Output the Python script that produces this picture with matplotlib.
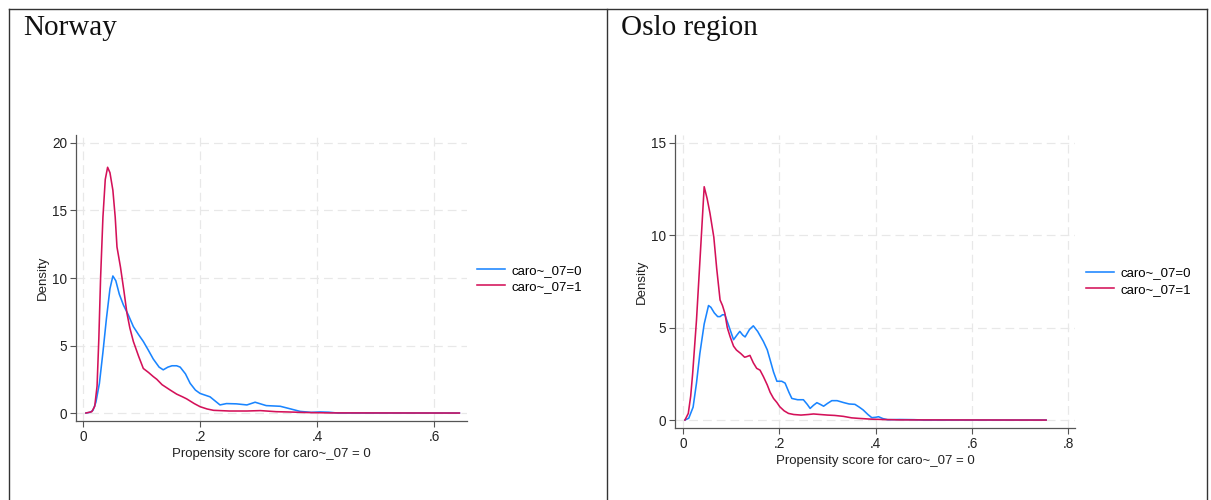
import matplotlib
matplotlib.use("Agg")
import matplotlib.pyplot as plt
from matplotlib.lines import Line2D

# ---------------- data ----------------
panel_titles = ["Norway", "Oslo region"]
series_labels = ["caro~_07=0", "caro~_07=1"]
x_label = "Propensity score for caro~_07 = 0"
y_label = "Density"

nor_ticks_x = [0, 0.2, 0.4, 0.6]
nor_ticklabels_x = ["0", ".2", ".4", ".6"]
nor_ticks_y = [0, 5, 10, 15, 20]
oslo_ticks_x = [0, 0.2, 0.4, 0.6, 0.8]
oslo_ticklabels_x = ["0", ".2", ".4", ".6", ".8"]
oslo_ticks_y = [0, 5, 10, 15]

nor0_x = [0.005, 0.012, 0.017, 0.022, 0.028, 0.034, 0.040, 0.046, 0.051, 0.056, 0.062, 0.069,
          0.077, 0.086, 0.095, 0.103, 0.111, 0.120, 0.130, 0.137, 0.145, 0.152, 0.160, 0.166,
          0.175, 0.183, 0.192, 0.200, 0.217, 0.234, 0.245, 0.262, 0.280, 0.294, 0.313, 0.337,
          0.355, 0.371, 0.390, 0.405, 0.420, 0.435, 0.643]
nor0_y = [0.0, 0.05, 0.2, 0.8, 2.2, 4.5, 7.0, 9.2, 10.15, 9.8, 8.8, 8.0,
          7.3, 6.4, 5.8, 5.3, 4.7, 4.0, 3.4, 3.2, 3.4, 3.5, 3.5, 3.4,
          2.9, 2.2, 1.7, 1.45, 1.2, 0.6, 0.7, 0.68, 0.6, 0.8, 0.55, 0.5,
          0.3, 0.12, 0.05, 0.08, 0.06, 0.0, 0.0]

nor1_x = [0.005, 0.015, 0.020, 0.024, 0.027, 0.030, 0.034, 0.038, 0.042, 0.046, 0.051, 0.055,
          0.058, 0.064, 0.070, 0.075, 0.080, 0.086, 0.095, 0.103, 0.112, 0.120, 0.126, 0.135,
          0.142, 0.149, 0.160, 0.170, 0.177, 0.190, 0.200, 0.212, 0.223, 0.250, 0.280, 0.303,
          0.330, 0.350, 0.380, 0.420, 0.643]
nor1_y = [0.0, 0.1, 0.5, 2.0, 5.5, 10.0, 14.5, 17.3, 18.2, 17.8, 16.5, 14.5,
          12.3, 10.8, 9.0, 7.4, 6.3, 5.3, 4.2, 3.3, 3.0, 2.7, 2.5, 2.1,
          1.9, 1.7, 1.4, 1.2, 1.05, 0.7, 0.47, 0.3, 0.2, 0.15, 0.15, 0.18,
          0.1, 0.08, 0.04, 0.01, 0.0]

oslo0_x = [0.004, 0.012, 0.021, 0.028, 0.035, 0.044, 0.053, 0.058, 0.065, 0.072, 0.077, 0.082,
           0.087, 0.095, 0.105, 0.112, 0.118, 0.124, 0.129, 0.138, 0.146, 0.155, 0.167, 0.175,
           0.181, 0.188, 0.195, 0.205, 0.212, 0.220, 0.226, 0.238, 0.250, 0.258, 0.264, 0.271,
           0.278, 0.285, 0.292, 0.300, 0.309, 0.320, 0.333, 0.345, 0.357, 0.366, 0.374, 0.384,
           0.392, 0.400, 0.406, 0.415, 0.425, 0.450, 0.480, 0.500, 0.754]
oslo0_y = [0.0, 0.1, 0.7, 2.0, 3.6, 5.2, 6.2, 6.1, 5.8, 5.6, 5.6, 5.7,
           5.7, 5.1, 4.35, 4.6, 4.8, 4.6, 4.5, 4.9, 5.1, 4.8, 4.25, 3.8,
           3.25, 2.6, 2.1, 2.1, 2.0, 1.5, 1.17, 1.1, 1.1, 0.85, 0.63, 0.8,
           0.94, 0.85, 0.75, 0.9, 1.05, 1.05, 0.95, 0.87, 0.85, 0.7, 0.55, 0.3,
           0.13, 0.15, 0.18, 0.08, 0.02, 0.03, 0.02, 0.0, 0.0]

oslo1_x = [0.004, 0.011, 0.016, 0.020, 0.028, 0.036, 0.044, 0.050, 0.056, 0.064, 0.070, 0.077,
           0.082, 0.087, 0.092, 0.098, 0.105, 0.111, 0.120, 0.128, 0.132, 0.139, 0.146, 0.153,
           0.160, 0.167, 0.175, 0.181, 0.188, 0.195, 0.201, 0.210, 0.219, 0.230, 0.245, 0.260,
           0.271, 0.285, 0.300, 0.315, 0.333, 0.350, 0.365, 0.390, 0.415, 0.450, 0.754]
oslo1_y = [0.0, 0.36, 1.3, 2.5, 5.4, 9.0, 12.63, 12.0, 11.2, 9.9, 8.2, 6.5,
           6.2, 5.78, 5.0, 4.5, 4.0, 3.79, 3.6, 3.4, 3.43, 3.5, 3.1, 2.8,
           2.7, 2.35, 1.9, 1.5, 1.17, 0.95, 0.72, 0.5, 0.36, 0.3, 0.27, 0.3,
           0.33, 0.3, 0.27, 0.25, 0.2, 0.12, 0.09, 0.05, 0.03, 0.01, 0.0]

# ---------------- style ----------------
W, H = 1211, 500
BLUE = "#1a85ff"
RED = "#d41159"
SANS = ["Liberation Sans", "DejaVu Sans"]
SERIF = ["Liberation Serif", "DejaVu Serif"]

plt.rcParams["font.family"] = SANS
fig = plt.figure(figsize=(W / 100, H / 100), dpi=100)


def px_rect(l, t, r, b):
    return [l / W, 1 - b / H, (r - l) / W, (b - t) / H]


def draw_panel(rect, series, xlim, ylim, xt, xtl, yt, leg_anchor):
    ax = fig.add_axes(rect)
    (x0, y0), (x1, y1) = series
    ax.plot(x0, y0, color=BLUE, lw=1.15, label=series_labels[0], solid_joinstyle="round")
    ax.plot(x1, y1, color=RED, lw=1.15, label=series_labels[1], solid_joinstyle="round")
    ax.set_xlim(*xlim)
    ax.set_ylim(*ylim)
    ax.set_xticks(xt)
    ax.set_xticklabels(xtl)
    ax.set_yticks(yt)
    ax.grid(True, color="#e8e8e8", lw=0.9, ls=(0, (7, 4)))
    ax.set_axisbelow(True)
    for s in ["top", "right"]:
        ax.spines[s].set_visible(False)
    for s in ["left", "bottom"]:
        ax.spines[s].set_color("#555555")
        ax.spines[s].set_linewidth(0.9)
    ax.tick_params(axis="both", length=4, width=0.8, color="#555555",
                   labelsize=9.8, labelcolor="#222222", pad=2.5)
    ax.set_xlabel(x_label, fontsize=9.5, color="#222222", labelpad=3)
    ax.set_ylabel(y_label, fontsize=9.5, color="#222222", labelpad=2)
    ax.legend(loc="center left", bbox_to_anchor=leg_anchor, frameon=False,
              fontsize=9.5, borderpad=0, borderaxespad=0, handlelength=2.1,
              handletextpad=0.55, labelspacing=0.3)
    return ax


draw_panel(px_rect(76, 135, 467, 421),
           [(nor0_x, nor0_y), (nor1_x, nor1_y)],
           (-0.012, 0.656), (-0.59, 20.59),
           nor_ticks_x, nor_ticklabels_x, nor_ticks_y, (1.0256, 0.498))

draw_panel(px_rect(675, 135, 1075, 428),
           [(oslo0_x, oslo0_y), (oslo1_x, oslo1_y)],
           (-0.0166, 0.814), (-0.43, 15.43),
           oslo_ticks_x, oslo_ticklabels_x, oslo_ticks_y, (1.0275, 0.5))

# table frame
frame_col = "#333333"
def fline(xs, ys):
    fig.add_artist(Line2D([x / W for x in xs], [1 - y / H for y in ys],
                          color=frame_col, lw=1.0, transform=fig.transFigure))

fline([9, 1207], [9, 9])
fline([9, 9], [9, 500])
fline([607, 607], [9, 500])
fline([1207, 1207], [9, 500])

fig.text(23 / W, 1 - 28 / H, panel_titles[0], family=SERIF, fontsize=21,
         va="center", ha="left", color="#111111")
fig.text(621 / W, 1 - 28 / H, panel_titles[1], family=SERIF, fontsize=21,
         va="center", ha="left", color="#111111")

fig.savefig("out.png", dpi=100)
